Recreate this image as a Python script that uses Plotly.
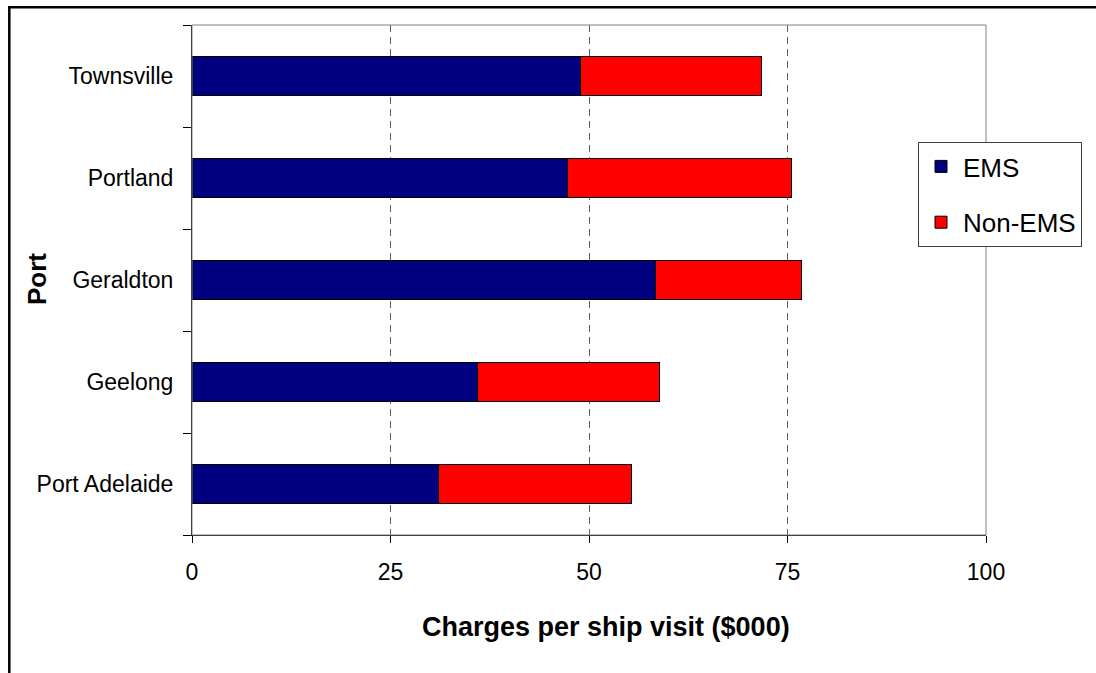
import plotly.graph_objects as go

# Ports, bottom to top
ports = ["Port Adelaide", "Geelong", "Geraldton", "Portland", "Townsville"]
# Charges per ship visit ($000)
ems = [31.1, 36.0, 58.4, 47.3, 48.9]
non_ems = [24.3, 22.9, 18.4, 28.2, 22.85]

x_ticks = [0, 25, 50, 75, 100]
x_tick_text = ["0", "25", "50", "75", "100"]

FONT = "Liberation Sans, Arial, sans-serif"

# plot area in pixels
L, R, T, B = 192, 986, 25, 535
PW, PH = R - L, B - T


def px(x):
    return (x - L) / PW


def py(y):
    return (B - y) / PH


fig = go.Figure()
fig.add_trace(go.Bar(
    y=ports, x=ems, name="EMS", orientation="h",
    marker=dict(color="#000080", line=dict(color="#000000", width=1)),
    width=0.39, legendgroup="a",
))
fig.add_trace(go.Bar(
    y=ports, x=non_ems, name="Non-EMS", orientation="h",
    marker=dict(color="#FF0000", line=dict(color="#000000", width=1)),
    width=0.39, legendgroup="b",
))

# plot-area frame (top/right in grey) and the outer chart frame
fig.add_shape(type="rect", xref="paper", yref="paper", x0=0, x1=1, y0=0, y1=1,
              line=dict(color="#808080", width=1), layer="above")
fig.add_shape(type="rect", xref="paper", yref="paper",
              x0=px(9.3), x1=px(1300), y0=py(800), y1=py(7.3),
              line=dict(color="#000000", width=2.5), layer="above")

# axis titles
fig.add_annotation(text="<b>Charges per ship visit ($000)</b>", xref="paper", yref="paper",
                   x=px(606), y=py(627), showarrow=False, xanchor="center", yanchor="middle",
                   font=dict(size=27, family=FONT, color="#000000"))
fig.add_annotation(text="<b>Port</b>", xref="paper", yref="paper",
                   x=px(37), y=py(279), showarrow=False, xanchor="center", yanchor="middle",
                   textangle=-90, font=dict(size=26, family=FONT, color="#000000"))

fig.update_layout(
    barmode="stack",
    width=1096, height=673,
    margin=dict(l=L, r=1096 - R, t=T, b=673 - B),
    paper_bgcolor="white", plot_bgcolor="white",
    font=dict(family=FONT, size=23, color="#000000"),
    showlegend=True,
    legend=dict(
        x=px(918), y=py(142), xanchor="left", yanchor="top",
        bordercolor="#404040", borderwidth=1, bgcolor="white",
        font=dict(size=26, family=FONT), traceorder="grouped",
        tracegroupgap=19, itemwidth=34,
    ),
    xaxis=dict(
        range=[0, 100], tickvals=x_ticks, ticktext=x_tick_text,
        ticks="outside", ticklen=7, tickcolor="#000000",
        showline=True, linecolor="#000000", linewidth=1,
        showgrid=True, gridcolor="#606060", gridwidth=1, griddash="7px,5px",
        zeroline=False, ticklabelstandoff=9,
        tickfont=dict(size=23),
    ),
    yaxis=dict(
        type="category", categoryorder="array", categoryarray=ports,
        ticks="outside", ticklen=8, tickcolor="#000000", tickson="boundaries",
        showline=True, linecolor="#000000", linewidth=1,
        showgrid=False, zeroline=False, ticklabelstandoff=13,
        tickfont=dict(size=23),
    ),
)

fig.write_html("out.html")
